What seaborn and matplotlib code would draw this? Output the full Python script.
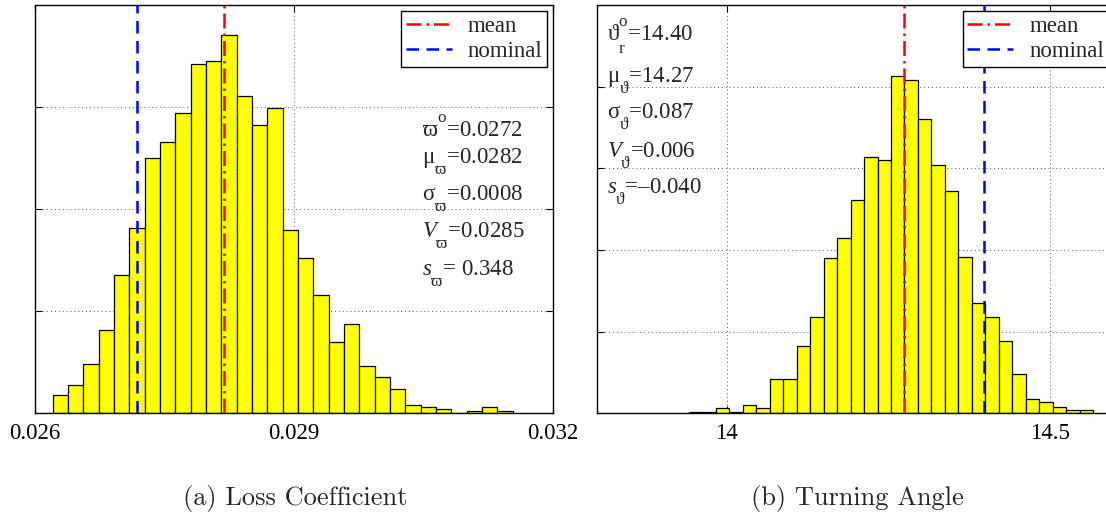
import numpy as np
import pandas as pd
import matplotlib
matplotlib.use("Agg")
import matplotlib.pyplot as plt
import seaborn as sns

# ---------------- data ----------------
# (a) Loss coefficient histogram (30 bins)
loss_bin_start = 0.026205
loss_bin_width = 0.0001776
loss_counts = [18, 28, 48, 82, 136, 182, 250, 266, 294, 342,
               345, 371, 311, 283, 299, 180, 152, 116, 70, 88,
               46, 36, 24, 8, 6, 4, 0, 2, 6, 2]
loss_mean = 0.02819
loss_nominal = 0.02718
loss_xticks = [0.026, 0.029, 0.032]
loss_xticklabels = ["0.026", "0.029", "0.032"]
loss_stat_labels = [r"$\mathrm{\varpi}^{\mathrm{o}}$", r"$\mathrm{\mu}_{\mathrm{\varpi}}$",
                    r"$\mathrm{\sigma}_{\mathrm{\varpi}}$", r"$V_{\mathrm{\varpi}}$",
                    r"$s_{\mathrm{\varpi}}$"]
loss_stat_values = ["=0.0272", "=0.0282", "=0.0008", "=0.0285", "= 0.348"]

# (b) Turning angle histogram (30 bins)
turn_bin_start = 13.9417
turn_bin_width = 0.02083
turn_counts = [2, 2, 6, 2, 10, 6, 42, 42, 82, 118,
               190, 215, 261, 314, 311, 413, 409, 361, 304, 273,
               192, 135, 118, 88, 48, 18, 14, 8, 4, 4]
turn_mean = 14.274
turn_nominal = 14.398
turn_xticks = [14, 14.5]
turn_xticklabels = ["14", "14.5"]
turn_stat_labels = [r"$\mathrm{\vartheta}^{\mathrm{o}}_{\mathrm{r}}$", r"$\mathrm{\mu}_{\mathrm{\vartheta}}$",
                    r"$\mathrm{\sigma}_{\mathrm{\vartheta}}$", r"$V_{\mathrm{\vartheta}}$",
                    r"$s_{\mathrm{\vartheta}}$"]
turn_stat_values = ["=14.40", "=14.27", "=0.087", "=0.006", "=\u20130.040"]

captions = ["(a) Loss Coefficient", "(b) Turning Angle"]

# ---------------- style ----------------
sns.set_style("white")
plt.rcParams["font.family"] = ["Liberation Serif", "DejaVu Serif"]
plt.rcParams["mathtext.fontset"] = "custom"
plt.rcParams["mathtext.rm"] = "Liberation Serif"
plt.rcParams["mathtext.it"] = "Liberation Serif:italic"
plt.rcParams["mathtext.bf"] = "Liberation Serif:bold"

# MATLAB-like deeper sub/superscripts
try:
    import matplotlib._mathtext as _mt
    _mt.SHRINK_FACTOR = 0.75
    _classes = [_mt.FontConstantsBase] + list(set(_mt._font_constant_mapping.values()))
    for _c in _classes:
        _c.sub1 = 1.0
        _c.sub2 = 1.2
        _c.sup1 = 1.3
except Exception:
    pass

SERIF = ["Liberation Serif", "DejaVu Serif"]

fig = plt.figure(figsize=(11.06, 5.16), dpi=100)
ax1 = fig.add_axes([0.03165, 0.19903, 0.46835, 0.79070])
ax2 = fig.add_axes([0.54005, 0.19903, 0.46781, 0.79070])


def draw_panel(ax, start, width, counts, mean, nominal, xlim, ylim, xticks, xticklabels,
               yticks, labels, values, tx, tys):
    edges = [float(e) for e in start + width * np.arange(len(counts) + 1)]
    centers = [e + width / 2 for e in edges[:-1]]
    df = pd.DataFrame({"x": centers, "w": counts})
    sns.histplot(data=df, x="x", weights="w", bins=edges, ax=ax,
                 color="#ffff00", edgecolor="black", linewidth=0.9, alpha=1.0,
                 stat="count", zorder=2)
    ax.set_xlim(*xlim)
    ax.set_ylim(*ylim)
    ax.set_xticks(xticks)
    ax.set_xticklabels(xticklabels, fontsize=16.5, family=SERIF)
    ax.set_yticks(yticks)
    ax.set_yticklabels([])
    ax.set_xlabel("")
    ax.set_ylabel("")
    ax.grid(True, linestyle=(0, (1, 3)), color="0.35", linewidth=0.7)
    ax.set_axisbelow(True)
    ax.tick_params(direction="in", top=True, right=True, length=5, width=0.8,
                   colors="black", pad=7, bottom=True, left=True)
    for sp in ax.spines.values():
        sp.set_visible(True)
        sp.set_color("black")
        sp.set_linewidth(1.0)
    ax.axvline(mean, color="red", linewidth=1.8, dashes=(6, 2, 1, 2), zorder=3, label="mean")
    ax.axvline(nominal, color="blue", linewidth=1.8, dashes=(5, 3), zorder=3, label="nominal")
    leg = ax.legend(loc="upper right", bbox_to_anchor=(0.9884, 0.986), borderaxespad=0,
                    frameon=True, fancybox=False, framealpha=1, edgecolor="black",
                    prop={"family": SERIF, "size": 16.5}, handlelength=2.0,
                    handletextpad=0.7, borderpad=0.2, labelspacing=0.2)
    leg.get_frame().set_linewidth(1.0)
    for lab, val, ty in zip(labels, values, tys):
        ax.text(tx, ty, lab + val, transform=ax.transAxes, ha="left", va="baseline",
                fontsize=16.5, family=SERIF, zorder=4)


draw_panel(ax1, loss_bin_start, loss_bin_width, loss_counts, loss_mean, loss_nominal,
           (0.026, 0.032), (0, 400), loss_xticks, loss_xticklabels, [100, 200, 300],
           loss_stat_labels, loss_stat_values, 0.7465,
           [0.678, 0.613, 0.523, 0.432, 0.339])

draw_panel(ax2, turn_bin_start, turn_bin_width, turn_counts, turn_mean, turn_nominal,
           (13.8, 14.6), (0, 500), turn_xticks, turn_xticklabels, [100, 200, 300, 400],
           turn_stat_labels, turn_stat_values, 0.0193,
           [0.913, 0.813, 0.723, 0.629, 0.539])

fig.text(295 / 1106, 1 - 498 / 516, captions[0], ha="center", va="center",
         family=["cmr10", "DejaVu Serif"], fontsize=19)
fig.text(857 / 1106, 1 - 498 / 516, captions[1], ha="center", va="center",
         family=["cmr10", "DejaVu Serif"], fontsize=19)

fig.savefig("out.png", dpi=100)
